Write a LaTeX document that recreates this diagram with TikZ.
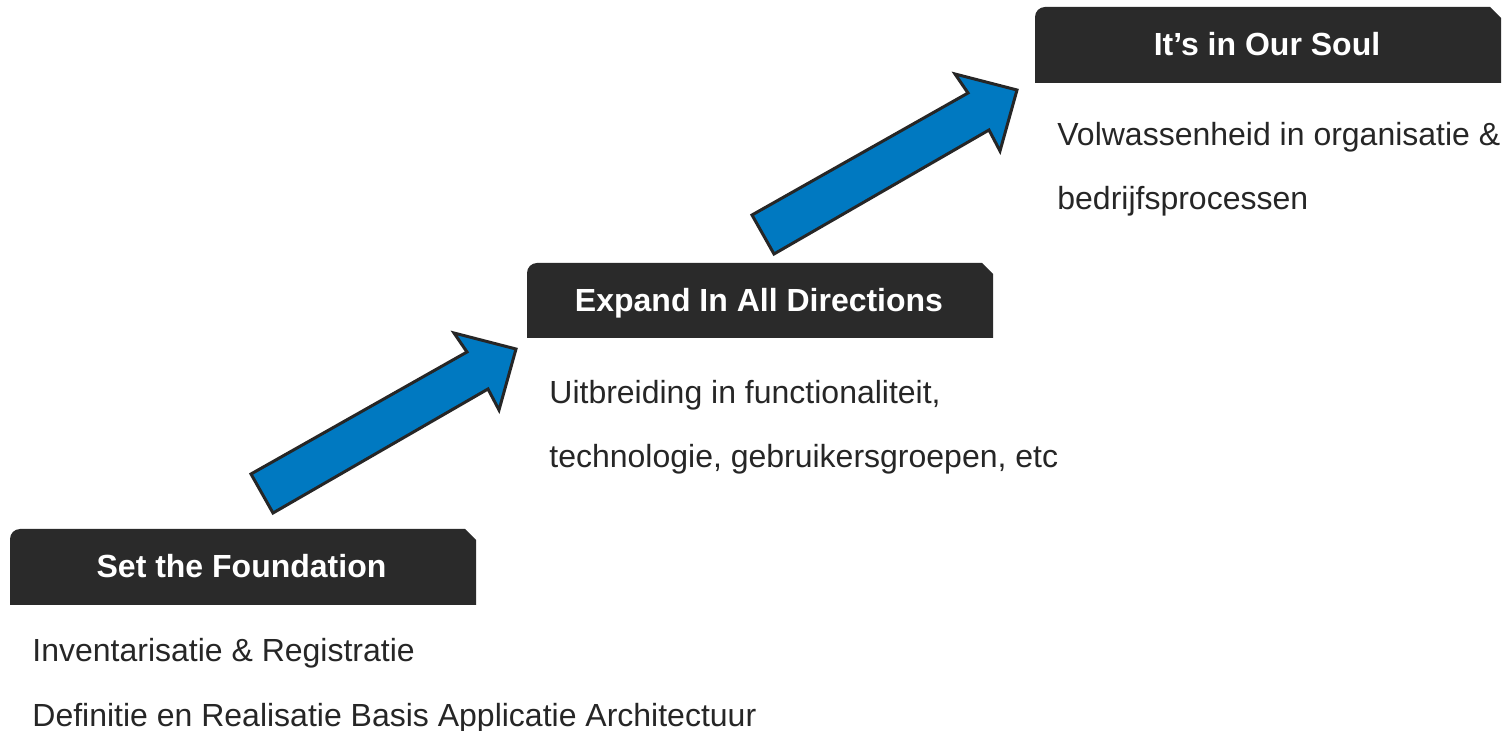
\documentclass[tikz,border=0pt]{standalone}
\usepackage{fontspec}
\setmainfont{Liberation Sans}
\definecolor{boxgray}{HTML}{2A2A2A}
\definecolor{arrowblue}{HTML}{0079C1}
\definecolor{inkgray}{HTML}{262626}
\newcommand\headboxpath[4]{\fill[headbox] (#1,#4) -- (#1,{#2+10}) .. controls (#1,{#2+4.5}) and ({#1+4.5},#2) .. ({#1+10},#2) -- ({#3-11},#2) -- (#3,{#2+11}) -- (#3,#4) -- cycle;}
\newcommand\stairarrow[2]{\draw[bluearrow,shift={(#1,#2)}] (251,474) -- (467,352) -- (454,333) -- (516,349) -- (499,410) -- (488,389) -- (273,513) -- cycle;}
\begin{document}
\begin{tikzpicture}[x=0.5pt,y=-0.5pt,
  headtext/.style={font=\fontsize{16}{19}\selectfont\bfseries, text=white, inner sep=0pt, anchor=base},
  bodytext/.style={font=\fontsize{16}{19}\selectfont, text=inkgray, inner sep=0pt, anchor=base west},
  headbox/.style={fill=boxgray},
  bluearrow/.style={fill=arrowblue, draw=inkgray, line width=1.5pt, line join=miter}]
\useasboundingbox (0,0) rectangle (1506,731);

% arrows
\stairarrow{0}{0}
\stairarrow{501}{-259}

% heading boxes
\headboxpath{10}{529}{476}{605}
\headboxpath{527}{263}{993}{338}
\headboxpath{1035}{7}{1501}{83}

% heading texts
\node[headtext] (h1) at (241.5,577.5) {Set the Foundation};
\node[headtext] (h2) at (759,311.5) {Expand In All Directions};
\node[headtext] (h3) at (1267,55.5) {It’s in Our Soul};

% body texts
\node[bodytext] (b1a) at (32,662) {Inventarisatie \& Registratie};
\node[bodytext] (b1b) at (32,727) {Definitie en Realisatie Basis Applicatie Architectuur};
\node[bodytext] (b2a) at (549,403.5) {Uitbreiding in functionaliteit,};
\node[bodytext] (b2b) at (549,468) {technologie, gebruikersgroepen, etc};
\node[bodytext] (b3a) at (1057,145.5) {Volwassenheid in organisatie \&};
\node[bodytext] (b3b) at (1057,209.5) {bedrijfsprocessen};
\end{tikzpicture}
\end{document}
